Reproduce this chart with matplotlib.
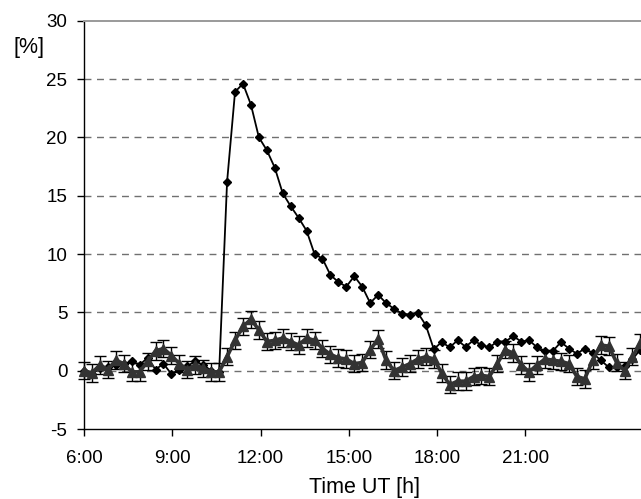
import numpy as np
import matplotlib
matplotlib.use("Agg")
import matplotlib.pyplot as plt

# ---- data ----
start_h = 6.0
step_h = 0.2701  # sampling interval in hours
diamond = [0.0, -0.3, 0.2, 0.3, 0.5, 0.6, 0.8, 0.5, 1.1, 0.1, 0.6, -0.3, 0.1, 0.4, 0.8, 0.5, 0.0, -0.1,
           16.2, 23.9, 24.6, 22.8, 20.0, 18.9, 17.4, 15.2, 14.1, 13.1, 12.0, 10.0, 9.6, 8.2, 7.6, 7.2,
           8.1, 7.2, 5.8, 6.5, 5.8, 5.3, 4.9, 4.8, 4.95, 3.9, 1.85, 2.45, 2.0, 2.6, 2.05, 2.6, 2.2, 2.0,
           2.5, 2.5, 2.95, 2.5, 2.6, 2.0, 1.7, 1.7, 2.45, 1.9, 1.45, 1.9, 1.5, 0.9, 0.3, 0.3, 0.4, 1.0, 1.8]
triangle = [0.0, -0.2, 0.5, 0.1, 0.9, 0.6, -0.1, -0.1, 0.8, 1.7, 1.9, 1.3, 0.6, 0.1, 0.5, 0.2, -0.1, -0.1,
            1.2, 2.6, 3.8, 4.4, 3.5, 2.5, 2.6, 2.8, 2.5, 2.2, 2.8, 2.6, 1.9, 1.4, 1.1, 1.0, 0.6, 0.7,
            1.8, 2.7, 0.9, 0.0, 0.3, 0.6, 1.0, 1.2, 1.0, -0.2, -1.2, -0.9, -0.9, -0.5, -0.4, -0.5,
            0.6, 1.8, 1.5, 0.5, -0.1, 0.5, 1.0, 0.9, 0.8, 0.6, -0.5, -0.7, 0.9, 2.2, 2.1, 0.7, 0.0, 1.2, 2.4]
tri_err = 0.75
xticks_h = [6, 9, 12, 15, 18, 21]
xtick_labels = ["6:00", "9:00", "12:00", "15:00", "18:00", "21:00"]
yticks = [-5, 0, 5, 10, 15, 20, 25, 30]

times = start_h + np.arange(len(diamond)) * step_h

plt.rcParams['font.family'] = ['Liberation Sans', 'DejaVu Sans']
fig = plt.figure(figsize=(6.41, 4.99), dpi=100)
ax = fig.add_axes([84/641, (499-429)/499, (641-84)/641, (429-20.7)/499])

ax.set_xlim(6.0, 6.0 + (641-84)/29.43)
ax.set_ylim(-5, 30)

for y in [0, 5, 10, 15, 20, 25]:
    ax.axhline(y, color='#707070', lw=1.0, dashes=(5, 4), zorder=1)

ax.plot(times, diamond, color='black', lw=1.3, marker='D', ms=4.5, zorder=3, clip_on=False)
ax.errorbar(times, triangle, yerr=tri_err, color='#333333', lw=2.6, marker='^', ms=6.5,
            ecolor='black', elinewidth=1.0, capsize=4.3, capthick=1.0, zorder=4, clip_on=False)

ax.spines['right'].set_visible(False)
ax.spines['top'].set_color('#9a9a9a')
ax.spines['top'].set_linewidth(1.4)
ax.spines['left'].set_linewidth(1.0)
ax.spines['bottom'].set_linewidth(1.0)

ax.set_xticks(xticks_h)
ax.set_xticklabels(xtick_labels)
ax.set_yticks(yticks)
ax.set_yticklabels([str(v) for v in yticks])
ax.tick_params(axis='x', direction='out', length=5, width=1.0, pad=10, labelsize=13.5)
ax.tick_params(axis='y', direction='out', length=5, width=1.0, pad=7, labelsize=13.5)

fig.text(29/641, 1-48/499, "[%]", ha='center', va='center', fontsize=15.5)
fig.text(364/641, 1-488/499, "Time UT [h]", ha='center', va='center', fontsize=15.5)

fig.savefig("out.png", dpi=100)
